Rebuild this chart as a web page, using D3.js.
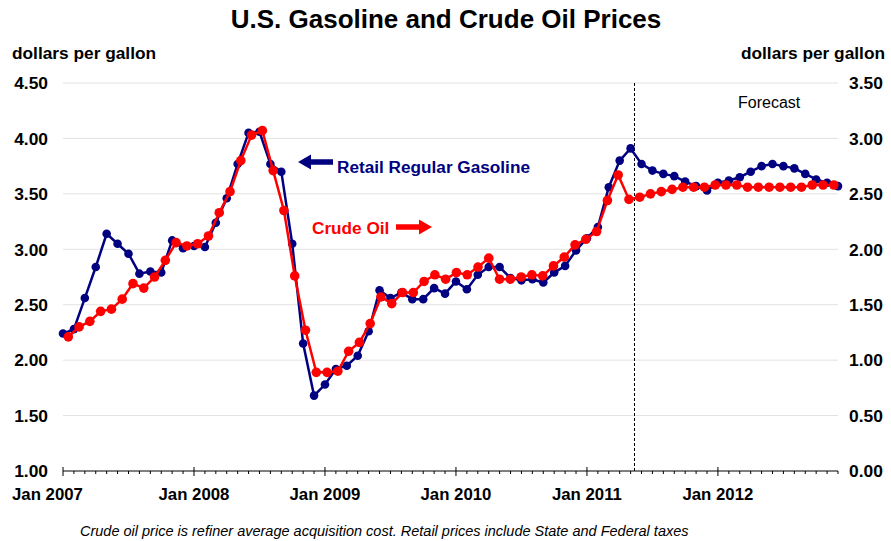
<!DOCTYPE html>
<html>
<head>
<meta charset="utf-8">
<script src="https://cdn.jsdelivr.net/npm/d3@7"></script>
<style>
  body { margin: 0; background: #fff; }
  svg { font-family: Arial, "Liberation Sans", sans-serif; }
</style>
</head>
<body>
<svg id="chart" width="891" height="541"></svg>
<script>
// monthly, Jan 2007 .. Dec 2012
const gasoline = [
  2.24, 2.28, 2.56, 2.84, 3.14, 3.05, 2.96, 2.78, 2.80, 2.79, 3.08, 3.01,
  3.03, 3.02, 3.24, 3.46, 3.77, 4.05, 4.06, 3.77, 3.70, 3.05, 2.15, 1.68,
  1.78, 1.92, 1.95, 2.04, 2.26, 2.63, 2.56, 2.61, 2.55, 2.55, 2.65, 2.60,
  2.71, 2.64, 2.77, 2.84, 2.84, 2.74, 2.72, 2.73, 2.70, 2.79, 2.85, 2.99,
  3.10, 3.20, 3.56, 3.80, 3.91, 3.77, 3.71, 3.68, 3.66, 3.61, 3.57, 3.53,
  3.60, 3.62, 3.65, 3.70, 3.75, 3.77, 3.75, 3.73, 3.68, 3.63, 3.60, 3.57
];
// crude oil, right axis
const crude = [
  1.21, 1.30, 1.35, 1.44, 1.46, 1.55, 1.69, 1.65, 1.75, 1.90, 2.06, 2.03,
  2.05, 2.12, 2.33, 2.52, 2.80, 3.03, 3.07, 2.71, 2.35, 1.76, 1.27, 0.89,
  0.89, 0.90, 1.08, 1.16, 1.33, 1.57, 1.51, 1.61, 1.61, 1.71, 1.77, 1.73,
  1.79, 1.77, 1.84, 1.92, 1.73, 1.73, 1.75, 1.77, 1.76, 1.85, 1.93, 2.04,
  2.09, 2.16, 2.44, 2.67, 2.45, 2.47, 2.50, 2.52, 2.54, 2.56, 2.56, 2.56,
  2.58, 2.58, 2.58, 2.56, 2.56, 2.56, 2.56, 2.56, 2.56, 2.58, 2.58, 2.58
];
const yearLabels = ['Jan 2007', 'Jan 2008', 'Jan 2009', 'Jan 2010', 'Jan 2011', 'Jan 2012'];
const leftTicks = [1.0, 1.5, 2.0, 2.5, 3.0, 3.5, 4.0, 4.5];
const rightTicks = [0.0, 0.5, 1.0, 1.5, 2.0, 2.5, 3.0, 3.5];
const forecastStart = 52.4; // month index of dashed line

const svg = d3.select('svg#chart');
const plotL = 63, plotR = 838, plotT = 83, plotB = 471;

const x = d3.scaleLinear().domain([0, 71]).range([plotL, plotR]);
const xCrude = d3.scaleLinear().domain([0, 71]).range([68.3, 833.8]);
const yL = d3.scaleLinear().domain([1, 4.5]).range([plotB, plotT]);
const yR = d3.scaleLinear().domain([0, 3.5]).range([plotB, plotT]);

// title
svg.append('text')
  .attr('x', 446).attr('y', 28)
  .attr('text-anchor', 'middle')
  .style('font-size', '26px').style('font-weight', 'bold')
  .text('U.S. Gasoline and Crude Oil Prices');

svg.append('text')
  .attr('x', 12).attr('y', 59)
  .style('font-size', '17.3px').style('font-weight', 'bold')
  .text('dollars per gallon');
svg.append('text')
  .attr('x', 885).attr('y', 59)
  .attr('text-anchor', 'end')
  .style('font-size', '17.3px').style('font-weight', 'bold')
  .text('dollars per gallon');

// gridlines
svg.append('g')
  .selectAll('line')
  .data(leftTicks.slice(1))
  .join('line')
  .attr('x1', plotL).attr('x2', plotR)
  .attr('y1', d => yL(d)).attr('y2', d => yL(d))
  .style('stroke', '#e2e2e2').style('stroke-width', 1);

// y labels
svg.append('g')
  .selectAll('text')
  .data(leftTicks)
  .join('text')
  .attr('x', 48).attr('y', d => yL(d) + 6.3)
  .attr('text-anchor', 'end')
  .style('font-size', '17.4px').style('font-weight', 'bold')
  .text(d => d.toFixed(2));
svg.append('g')
  .selectAll('text')
  .data(rightTicks)
  .join('text')
  .attr('x', 849).attr('y', d => yR(d) + 6.3)
  .style('font-size', '17.4px').style('font-weight', 'bold')
  .text(d => d.toFixed(2));

// x axis
const xAxis = svg.append('g');
xAxis.append('line')
  .attr('x1', plotL).attr('x2', plotR)
  .attr('y1', plotB).attr('y2', plotB)
  .style('stroke', '#000').style('stroke-width', 1);
xAxis.selectAll('line.tick')
  .data(d3.range(72))
  .join('line')
  .attr('class', 'tick')
  .attr('x1', d => x(d)).attr('x2', d => x(d))
  .attr('y1', d => d % 12 === 0 ? plotB - 4 : plotB)
  .attr('y2', d => d % 12 === 0 ? plotB + 5 : plotB + 3)
  .style('stroke', '#000').style('stroke-width', 1);
xAxis.selectAll('text')
  .data(yearLabels)
  .join('text')
  .attr('x', (d, i) => i === 0 ? 12 : x(i * 12))
  .attr('y', 500)
  .attr('text-anchor', (d, i) => i === 0 ? 'start' : 'middle')
  .style('font-size', '16.8px').style('font-weight', 'bold')
  .text(d => d);

// forecast divider
svg.append('line')
  .attr('x1', x(forecastStart)).attr('x2', x(forecastStart))
  .attr('y1', plotT).attr('y2', plotB)
  .attr('shape-rendering', 'crispEdges')
  .style('stroke', '#000').style('stroke-width', 1)
  .style('stroke-dasharray', '3,2');
svg.append('text')
  .attr('x', 738).attr('y', 108)
  .style('font-size', '16px')
  .text('Forecast');

// series
const gasLine = d3.line().x((d, i) => x(i)).y(d => yL(d));
const crudeLine = d3.line().x((d, i) => xCrude(i)).y(d => yR(d));

svg.append('path').datum(gasoline)
  .attr('d', gasLine)
  .style('fill', 'none').style('stroke', '#000080').style('stroke-width', 2.5);
svg.append('g').selectAll('circle')
  .data(gasoline)
  .join('circle')
  .attr('cx', (d, i) => x(i)).attr('cy', d => yL(d)).attr('r', 4.3)
  .style('fill', '#000080');

svg.append('path').datum(crude)
  .attr('d', crudeLine)
  .style('fill', 'none').style('stroke', '#ff0000').style('stroke-width', 2.5);
svg.append('g').selectAll('circle')
  .data(crude)
  .join('circle')
  .attr('cx', (d, i) => xCrude(i)).attr('cy', d => yR(d)).attr('r', 4.8)
  .style('fill', '#ff0000');

// annotations
function arrow (x0, x1, yc, color) {
  const dir = Math.sign(x1 - x0);
  const head = 13;
  const pts = [
    [x0, yc - 2.8], [x1 - dir * head, yc - 2.8], [x1 - dir * head, yc - 7.5],
    [x1, yc], [x1 - dir * head, yc + 7.5], [x1 - dir * head, yc + 2.8], [x0, yc + 2.8]
  ];
  svg.append('path')
    .attr('d', d3.line()(pts) + 'Z')
    .style('fill', color);
}
arrow(333, 298, 162, '#000080');
svg.append('text')
  .attr('x', 337).attr('y', 173)
  .style('font-size', '17.2px').style('font-weight', 'bold')
  .style('fill', '#000080')
  .text('Retail Regular Gasoline');

arrow(396, 432, 227, '#ff0000');
svg.append('text')
  .attr('x', 312).attr('y', 234)
  .style('font-size', '17.2px').style('font-weight', 'bold')
  .style('fill', '#ff0000')
  .text('Crude Oil');

svg.append('text')
  .attr('x', 80).attr('y', 536)
  .style('font-size', '14.5px').style('font-style', 'italic')
  .text('Crude oil price is refiner average acquisition cost.  Retail prices include State and Federal taxes');
</script>
</body>
</html>
